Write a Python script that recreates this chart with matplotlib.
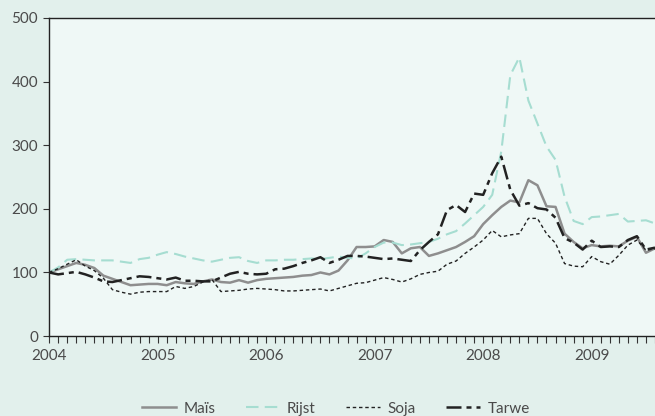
import numpy as np
import matplotlib
matplotlib.use("Agg")
from matplotlib import pyplot as plt
from matplotlib.ticker import MultipleLocator

# monthly price index, Jan 2004 = 100
mais = [100, 105, 110, 115, 112, 107, 95, 90, 85, 80, 81, 82,
        82, 80, 85, 83, 82, 86, 89, 85, 84, 88, 84, 88,
        90, 91, 92, 93, 95, 96, 100, 97, 103, 119, 140, 140,
        141, 151, 148, 130, 138, 140, 126, 130, 135, 140, 148, 157,
        176, 190, 203, 213, 210, 245, 237, 204, 203, 161, 148, 138,
        143, 141, 142, 141, 150, 156, 131, 138]
rijst = [100, 108, 120, 121, 120, 119, 119, 119, 117, 115, 121, 123,
         128, 132, 129, 125, 122, 119, 117, 120, 123, 124, 118, 115,
         119, 119, 120, 120, 121, 122, 121, 123, 125, 123, 122, 130,
         140, 147, 147, 143, 144, 146, 148, 153, 160, 165, 177, 190,
         203, 222, 290, 410, 438, 370, 334, 298, 277, 219, 181, 176,
         187, 188, 190, 192, 180, 181, 182, 177]
soja = [100, 106, 113, 120, 110, 103, 91, 73, 69, 66, 69, 70,
        70, 70, 78, 75, 78, 85, 89, 70, 71, 72, 74, 75,
        74, 73, 71, 71, 72, 73, 74, 71, 75, 79, 83, 84,
        88, 92, 89, 85, 90, 97, 100, 102, 113, 118, 130, 140,
        151, 166, 156, 159, 161, 185, 185, 161, 146, 114, 110, 109,
        125, 117, 113, 127, 143, 151, 135, 137]
tarwe = [100, 97, 99, 101, 97, 92, 86, 85, 88, 91, 94, 93,
         91, 89, 92, 87, 87, 86, 86, 92, 98, 101, 98, 97,
         98, 105, 106, 110, 115, 119, 124, 115, 120, 126, 126, 125,
         123, 121, 122, 120, 118, 135, 148, 160, 198, 206, 195, 224,
         222, 256, 282, 230, 205, 209, 201, 199, 186, 154, 147, 136,
         150, 140, 141, 140, 151, 157, 136, 139]
year_labels = ["2004", "2005", "2006", "2007", "2008", "2009"]

months = np.arange(len(mais))
x = 2004 + months / 12

plt.rcParams['font.family'] = ['Lato', 'DejaVu Sans']
text_col = '#4a4a4a'

fig = plt.figure(figsize=(6.55, 4.16), dpi=100, facecolor='#e2f0ec')
ax = fig.add_axes([0.075, 0.192, 0.925, 0.765], facecolor='#eff8f6')

ax.plot(x, mais, color='#8e8e8e', lw=1.8, label='Maïs')
ax.plot(x, rijst, color='#a6ddd1', lw=1.5, dashes=(6, 3), label='Rijst')
ax.plot(x, soja, color='#222222', lw=1.0, dashes=(2.5, 2), label='Soja')
ax.plot(x, tarwe, color='#222222', lw=1.8, dashes=(6, 2, 2, 2), label='Tarwe')

ax.set_xlim(2004, 2004 + 67 / 12)
ax.set_ylim(0, 500)
ax.set_xticks([2004 + i for i in range(len(year_labels))])
ax.set_xticklabels(year_labels)
ax.xaxis.set_minor_locator(MultipleLocator(1 / 12))
ax.set_yticks([0, 100, 200, 300, 400, 500])

for side in ['left', 'bottom', 'top']:
    ax.spines[side].set_color('#222222')
    ax.spines[side].set_linewidth(1.0)
ax.spines['right'].set_visible(False)

ax.tick_params(axis='x', which='both', direction='out', length=5, width=0.8,
               color='#333333', labelsize=11, labelcolor=text_col, pad=4)
ax.tick_params(axis='y', direction='out', length=4, width=0.8,
               color='#333333', labelsize=11, labelcolor=text_col, pad=4)

fig.legend(loc='center', bbox_to_anchor=(0.513, 0.018), ncol=4,
           frameon=False, fontsize=11, handlelength=2.2, handletextpad=0.5,
           columnspacing=2.0, labelcolor=text_col)

fig.savefig('out.png', dpi=100, facecolor=fig.get_facecolor())
